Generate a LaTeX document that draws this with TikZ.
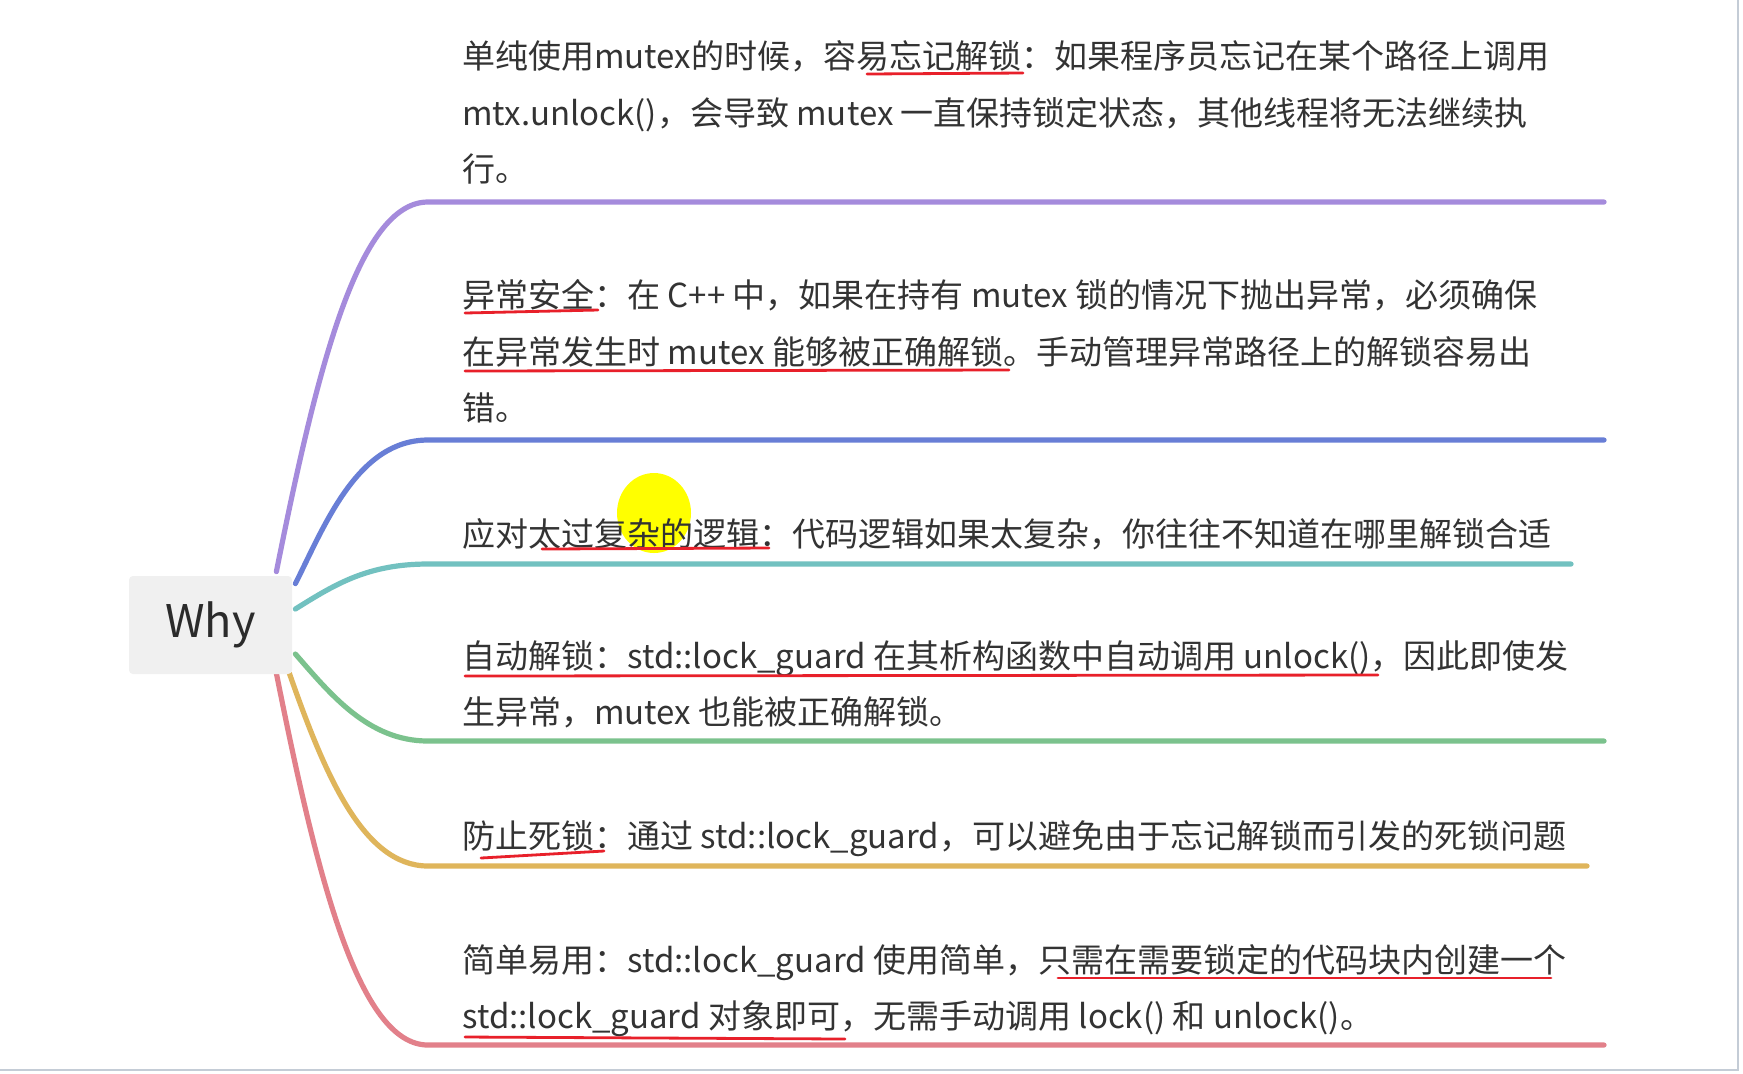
\documentclass[tikz,border=0pt]{standalone}
\usepackage{fontspec}
\setmainfont{Noto Sans CJK SC}
\usetikzlibrary{calc,backgrounds}
\definecolor{textgray}{HTML}{333333}
\definecolor{whygray}{HTML}{2B2B2B}
\definecolor{boxgray}{HTML}{F0F0F0}
\definecolor{framegray}{HTML}{C4CCD6}
\definecolor{penred}{HTML}{E8202A}
\definecolor{hiyellow}{HTML}{FFFF00}
\definecolor{purpleline}{HTML}{A58BDC}
\definecolor{blueline}{HTML}{687ED6}
\definecolor{tealline}{HTML}{72C1C0}
\definecolor{greenline}{HTML}{7BC28D}
\definecolor{goldline}{HTML}{DFB55B}
\definecolor{redline}{HTML}{E2808A}

\begin{document}
\begin{tikzpicture}[x=0.5pt,y=-0.5pt,
  txt/.style={anchor=base west,inner sep=0pt,text=textgray,font=\fontsize{16.5}{20}\selectfont},
  branch/.style={line width=2.6pt,line cap=round},
  penstroke/.style={draw=penred,line width=1.4pt,line cap=round}]
\path[use as bounding box] (0,0) rectangle (1743,1073);
\node[fill=boxgray,rounded corners=2pt,minimum width=81.5pt,minimum height=49pt,inner sep=0pt,text=whygray,font=\fontsize{22.5}{27}\selectfont] (why) at (210.5,625) {Why};
% start and end points of the branches
\coordinate (p1) at ($(why.north east)+(-16,-4)$);
\coordinate (p2) at ($(why.north east)+(3,8)$);
\coordinate (p3) at ($(why.east)+(3,-16)$);
\coordinate (p4) at ($(why.east)+(3,29)$);
\coordinate (p5) at ($(why.south east)+(-3,-1)$);
\coordinate (p6) at ($(why.south east)+(-16,-1)$);
\coordinate (b1s) at (428,202);  \coordinate (b1e) at (1604,202);
\coordinate (b2s) at (428,440);  \coordinate (b2e) at (1604,440);
\coordinate (b3s) at (428,564);  \coordinate (b3e) at (1571,564);
\coordinate (b4s) at (428,741);  \coordinate (b4e) at (1604,741);
\coordinate (b5s) at (428,866);  \coordinate (b5e) at (1587,866);
\coordinate (b6s) at (428,1045); \coordinate (b6e) at (1604,1045);
\begin{scope}[on background layer]
\fill[white] (0,0) rectangle (1743,1073);
\draw[branch,purpleline] (p1) .. controls +(40,-200) and +(-70,0) .. (b1s) -- (b1e);
\draw[branch,blueline] (p2) .. controls +(30,-60) and +(-70,0) .. (b2s) -- (b2e);
\draw[branch,tealline] (p3) .. controls +(40,-25) and +(-60,0) .. (b3s) -- (b3e);
\draw[branch,greenline] (p4) .. controls +(35,40) and +(-60,0) .. (b4s) -- (b4e);
\draw[branch,goldline] (p5) .. controls +(35,100) and +(-65,0) .. (b5s) -- (b5e);
\draw[branch,redline] (p6) .. controls +(40,200) and +(-70,0) .. (b6s) -- (b6e);
\end{scope}
\draw[framegray,line width=1pt] (1738,0) -- (1738,1070) -- (0,1070);
% pointer highlight
\fill[hiyellow] (654,513) ellipse (37 and 40);
% branch texts
\node[txt] (t1a) at (462,68) {单纯使用mutex的时候，容易忘记解锁：如果程序员忘记在某个路径上调用};
\node[txt] (t1b) at (462,125) {mtx.unlock()，会导致 mutex 一直保持锁定状态，其他线程将无法继续执};
\node[txt] (t1c) at (462,181.5) {行。};
\node[txt] (t2a) at (462,307) {异常安全：在 C++ 中，如果在持有 mutex 锁的情况下抛出异常，必须确保};
\node[txt] (t2b) at (462,364) {在异常发生时 mutex 能够被正确解锁。手动管理异常路径上的解锁容易出};
\node[txt] (t2c) at (462,420.5) {错。};
\node[txt] (t3a) at (462,546) {应对太过复杂的逻辑：代码逻辑如果太复杂，你往往不知道在哪里解锁合适};
\node[txt] (t4a) at (462,668) {自动解锁：std::lock\_guard 在其析构函数中自动调用 unlock()，因此即使发};
\node[txt] (t4b) at (462,724) {生异常，mutex 也能被正确解锁。};
\node[txt] (t5a) at (462,848.5) {防止死锁：通过 std::lock\_guard，可以避免由于忘记解锁而引发的死锁问题};
\node[txt] (t6a) at (462,972) {简单易用：std::lock\_guard 使用简单，只需在需要锁定的代码块内创建一个};
\node[txt] (t6b) at (462,1028) {std::lock\_guard 对象即可，无需手动调用 lock() 和 unlock()。};
% red pen marks
\draw[penstroke] (867,74) -- (1023,73);
\draw[penstroke] (465,313) -- (598,310);
\draw[penstroke] (465,371) -- (1009,370);
\draw[penstroke] (542,549) -- (769,548);
\draw[penstroke] (465,676) -- (1378,675);
\draw[penstroke] (481,858) -- (604,851);
\draw[penstroke] (1058,978) -- (1551,978);
\draw[penstroke] (465,1037) -- (845,1039);
\end{tikzpicture}
\end{document}
